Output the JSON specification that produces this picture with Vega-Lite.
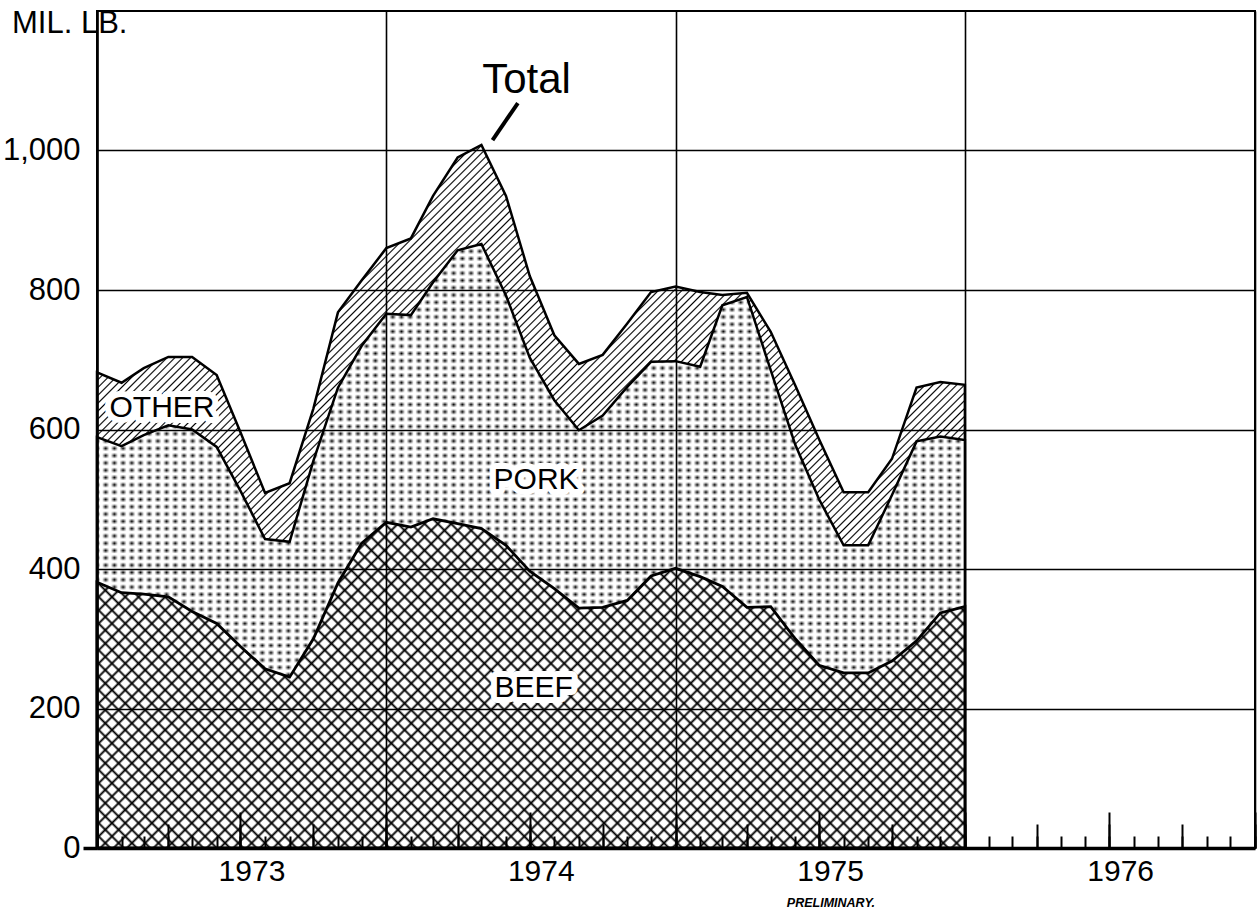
{
"$schema":"https://vega.github.io/schema/vega-lite/v6.json",
"width":1158,"height":837,
"autosize":{"type":"none"},
"padding":{"left":97,"top":11,"right":4,"bottom":69},
"background":"white",
"config":{"view":{"stroke":"black","strokeWidth":2},"axis":{"zindex":1}},
"data":{"values":[
{"date":"1973-01-01","beef":381,"pork":208,"other":93},
{"date":"1973-02-01","beef":366,"pork":210,"other":91},
{"date":"1973-03-01","beef":364,"pork":228,"other":96},
{"date":"1973-04-01","beef":360,"pork":246,"other":98},
{"date":"1973-05-01","beef":339,"pork":261,"other":104},
{"date":"1973-06-01","beef":322,"pork":253,"other":103},
{"date":"1973-07-01","beef":289,"pork":223,"other":84},
{"date":"1973-08-01","beef":257,"pork":186,"other":66},
{"date":"1973-09-01","beef":245,"pork":194,"other":84},
{"date":"1973-10-01","beef":300,"pork":255,"other":75},
{"date":"1973-11-01","beef":380,"pork":280,"other":108},
{"date":"1973-12-01","beef":437,"pork":283,"other":94},
{"date":"1974-01-01","beef":467,"pork":299,"other":94},
{"date":"1974-02-01","beef":460,"pork":304,"other":110},
{"date":"1974-03-01","beef":472,"pork":339,"other":124},
{"date":"1974-04-01","beef":465,"pork":392,"other":133},
{"date":"1974-05-01","beef":458,"pork":408,"other":142},
{"date":"1974-06-01","beef":434,"pork":358,"other":143},
{"date":"1974-07-01","beef":397,"pork":306,"other":117},
{"date":"1974-08-01","beef":372,"pork":270,"other":93},
{"date":"1974-09-01","beef":344,"pork":255,"other":95},
{"date":"1974-10-01","beef":345,"pork":275,"other":87},
{"date":"1974-11-01","beef":355,"pork":306,"other":91},
{"date":"1974-12-01","beef":390,"pork":307,"other":100},
{"date":"1975-01-01","beef":401,"pork":297,"other":107},
{"date":"1975-02-01","beef":389,"pork":301,"other":107},
{"date":"1975-03-01","beef":375,"pork":403,"other":15},
{"date":"1975-04-01","beef":345,"pork":445,"other":6},
{"date":"1975-05-01","beef":346,"pork":339,"other":55},
{"date":"1975-06-01","beef":300,"pork":278,"other":85},
{"date":"1975-07-01","beef":262,"pork":238,"other":86},
{"date":"1975-08-01","beef":251,"pork":183,"other":76},
{"date":"1975-09-01","beef":251,"pork":183,"other":76},
{"date":"1975-10-01","beef":268,"pork":238,"other":52},
{"date":"1975-11-01","beef":297,"pork":286,"other":77},
{"date":"1975-12-01","beef":337,"pork":253,"other":78},
{"date":"1976-01-01","beef":346,"pork":239,"other":79}
]},
"resolve":{"axis":{"x":"independent","y":"independent"}},
"layer":[
{
"transform":[{"fold":["beef","pork","other"],"as":["meat","mil_lb"]},{"aggregate":[{"op":"sum","field":"mil_lb","as":"total"}],"groupby":["date"]}],
"mark":{"type":"area","stroke":"black","strokeWidth":2.5,"fill":{"gradient":"linear","x1":0,"y1":0,"x2":1.0929,"y2":0.8853,"stops":[
{"offset":0,"color":"#000"},{"offset":0.001,"color":"#fff"},
{"offset":0.004,"color":"#fff"},{"offset":0.005,"color":"#000"},{"offset":0.006,"color":"#fff"},{"offset":0.009,"color":"#fff"},{"offset":0.010,"color":"#000"},{"offset":0.011,"color":"#fff"},
{"offset":0.014,"color":"#fff"},{"offset":0.015,"color":"#000"},{"offset":0.016,"color":"#fff"},{"offset":0.019,"color":"#fff"},{"offset":0.020,"color":"#000"},{"offset":0.021,"color":"#fff"},
{"offset":0.024,"color":"#fff"},{"offset":0.025,"color":"#000"},{"offset":0.026,"color":"#fff"},{"offset":0.029,"color":"#fff"},{"offset":0.030,"color":"#000"},{"offset":0.031,"color":"#fff"},
{"offset":0.034,"color":"#fff"},{"offset":0.035,"color":"#000"},{"offset":0.036,"color":"#fff"},{"offset":0.039,"color":"#fff"},{"offset":0.040,"color":"#000"},{"offset":0.041,"color":"#fff"},
{"offset":0.044,"color":"#fff"},{"offset":0.045,"color":"#000"},{"offset":0.046,"color":"#fff"},{"offset":0.049,"color":"#fff"},{"offset":0.050,"color":"#000"},{"offset":0.051,"color":"#fff"},
{"offset":0.054,"color":"#fff"},{"offset":0.055,"color":"#000"},{"offset":0.056,"color":"#fff"},{"offset":0.059,"color":"#fff"},{"offset":0.060,"color":"#000"},{"offset":0.061,"color":"#fff"},
{"offset":0.064,"color":"#fff"},{"offset":0.065,"color":"#000"},{"offset":0.066,"color":"#fff"},{"offset":0.069,"color":"#fff"},{"offset":0.070,"color":"#000"},{"offset":0.071,"color":"#fff"},
{"offset":0.074,"color":"#fff"},{"offset":0.075,"color":"#000"},{"offset":0.076,"color":"#fff"},{"offset":0.079,"color":"#fff"},{"offset":0.080,"color":"#000"},{"offset":0.081,"color":"#fff"},
{"offset":0.084,"color":"#fff"},{"offset":0.085,"color":"#000"},{"offset":0.086,"color":"#fff"},{"offset":0.089,"color":"#fff"},{"offset":0.090,"color":"#000"},{"offset":0.091,"color":"#fff"},
{"offset":0.094,"color":"#fff"},{"offset":0.095,"color":"#000"},{"offset":0.096,"color":"#fff"},{"offset":0.099,"color":"#fff"},{"offset":0.100,"color":"#000"},{"offset":0.101,"color":"#fff"},
{"offset":0.104,"color":"#fff"},{"offset":0.105,"color":"#000"},{"offset":0.106,"color":"#fff"},{"offset":0.109,"color":"#fff"},{"offset":0.110,"color":"#000"},{"offset":0.111,"color":"#fff"},
{"offset":0.114,"color":"#fff"},{"offset":0.115,"color":"#000"},{"offset":0.116,"color":"#fff"},{"offset":0.119,"color":"#fff"},{"offset":0.120,"color":"#000"},{"offset":0.121,"color":"#fff"},
{"offset":0.124,"color":"#fff"},{"offset":0.125,"color":"#000"},{"offset":0.126,"color":"#fff"},{"offset":0.129,"color":"#fff"},{"offset":0.130,"color":"#000"},{"offset":0.131,"color":"#fff"},
{"offset":0.134,"color":"#fff"},{"offset":0.135,"color":"#000"},{"offset":0.136,"color":"#fff"},{"offset":0.139,"color":"#fff"},{"offset":0.140,"color":"#000"},{"offset":0.141,"color":"#fff"},
{"offset":0.144,"color":"#fff"},{"offset":0.145,"color":"#000"},{"offset":0.146,"color":"#fff"},{"offset":0.149,"color":"#fff"},{"offset":0.150,"color":"#000"},{"offset":0.151,"color":"#fff"},
{"offset":0.154,"color":"#fff"},{"offset":0.155,"color":"#000"},{"offset":0.156,"color":"#fff"},{"offset":0.159,"color":"#fff"},{"offset":0.160,"color":"#000"},{"offset":0.161,"color":"#fff"},
{"offset":0.164,"color":"#fff"},{"offset":0.165,"color":"#000"},{"offset":0.166,"color":"#fff"},{"offset":0.169,"color":"#fff"},{"offset":0.170,"color":"#000"},{"offset":0.171,"color":"#fff"},
{"offset":0.174,"color":"#fff"},{"offset":0.175,"color":"#000"},{"offset":0.176,"color":"#fff"},{"offset":0.179,"color":"#fff"},{"offset":0.180,"color":"#000"},{"offset":0.181,"color":"#fff"},
{"offset":0.184,"color":"#fff"},{"offset":0.185,"color":"#000"},{"offset":0.186,"color":"#fff"},{"offset":0.189,"color":"#fff"},{"offset":0.190,"color":"#000"},{"offset":0.191,"color":"#fff"},
{"offset":0.194,"color":"#fff"},{"offset":0.195,"color":"#000"},{"offset":0.196,"color":"#fff"},{"offset":0.199,"color":"#fff"},{"offset":0.200,"color":"#000"},{"offset":0.201,"color":"#fff"},
{"offset":0.204,"color":"#fff"},{"offset":0.205,"color":"#000"},{"offset":0.206,"color":"#fff"},{"offset":0.209,"color":"#fff"},{"offset":0.210,"color":"#000"},{"offset":0.211,"color":"#fff"},
{"offset":0.214,"color":"#fff"},{"offset":0.215,"color":"#000"},{"offset":0.216,"color":"#fff"},{"offset":0.219,"color":"#fff"},{"offset":0.220,"color":"#000"},{"offset":0.221,"color":"#fff"},
{"offset":0.224,"color":"#fff"},{"offset":0.225,"color":"#000"},{"offset":0.226,"color":"#fff"},{"offset":0.229,"color":"#fff"},{"offset":0.230,"color":"#000"},{"offset":0.231,"color":"#fff"},
{"offset":0.234,"color":"#fff"},{"offset":0.235,"color":"#000"},{"offset":0.236,"color":"#fff"},{"offset":0.239,"color":"#fff"},{"offset":0.240,"color":"#000"},{"offset":0.241,"color":"#fff"},
{"offset":0.244,"color":"#fff"},{"offset":0.245,"color":"#000"},{"offset":0.246,"color":"#fff"},{"offset":0.249,"color":"#fff"},{"offset":0.250,"color":"#000"},{"offset":0.251,"color":"#fff"},
{"offset":0.254,"color":"#fff"},{"offset":0.255,"color":"#000"},{"offset":0.256,"color":"#fff"},{"offset":0.259,"color":"#fff"},{"offset":0.260,"color":"#000"},{"offset":0.261,"color":"#fff"},
{"offset":0.264,"color":"#fff"},{"offset":0.265,"color":"#000"},{"offset":0.266,"color":"#fff"},{"offset":0.269,"color":"#fff"},{"offset":0.270,"color":"#000"},{"offset":0.271,"color":"#fff"},
{"offset":0.274,"color":"#fff"},{"offset":0.275,"color":"#000"},{"offset":0.276,"color":"#fff"},{"offset":0.279,"color":"#fff"},{"offset":0.280,"color":"#000"},{"offset":0.281,"color":"#fff"},
{"offset":0.284,"color":"#fff"},{"offset":0.285,"color":"#000"},{"offset":0.286,"color":"#fff"},{"offset":0.289,"color":"#fff"},{"offset":0.290,"color":"#000"},{"offset":0.291,"color":"#fff"},
{"offset":0.294,"color":"#fff"},{"offset":0.295,"color":"#000"},{"offset":0.296,"color":"#fff"},{"offset":0.299,"color":"#fff"},{"offset":0.300,"color":"#000"},{"offset":0.301,"color":"#fff"},
{"offset":0.304,"color":"#fff"},{"offset":0.305,"color":"#000"},{"offset":0.306,"color":"#fff"},{"offset":0.309,"color":"#fff"},{"offset":0.310,"color":"#000"},{"offset":0.311,"color":"#fff"},
{"offset":0.314,"color":"#fff"},{"offset":0.315,"color":"#000"},{"offset":0.316,"color":"#fff"},{"offset":0.319,"color":"#fff"},{"offset":0.320,"color":"#000"},{"offset":0.321,"color":"#fff"},
{"offset":0.324,"color":"#fff"},{"offset":0.325,"color":"#000"},{"offset":0.326,"color":"#fff"},{"offset":0.329,"color":"#fff"},{"offset":0.330,"color":"#000"},{"offset":0.331,"color":"#fff"},
{"offset":0.334,"color":"#fff"},{"offset":0.335,"color":"#000"},{"offset":0.336,"color":"#fff"},{"offset":0.339,"color":"#fff"},{"offset":0.340,"color":"#000"},{"offset":0.341,"color":"#fff"},
{"offset":0.344,"color":"#fff"},{"offset":0.345,"color":"#000"},{"offset":0.346,"color":"#fff"},{"offset":0.349,"color":"#fff"},{"offset":0.350,"color":"#000"},{"offset":0.351,"color":"#fff"},
{"offset":0.354,"color":"#fff"},{"offset":0.355,"color":"#000"},{"offset":0.356,"color":"#fff"},{"offset":0.359,"color":"#fff"},{"offset":0.360,"color":"#000"},{"offset":0.361,"color":"#fff"},
{"offset":0.364,"color":"#fff"},{"offset":0.365,"color":"#000"},{"offset":0.366,"color":"#fff"},{"offset":0.369,"color":"#fff"},{"offset":0.370,"color":"#000"},{"offset":0.371,"color":"#fff"},
{"offset":0.374,"color":"#fff"},{"offset":0.375,"color":"#000"},{"offset":0.376,"color":"#fff"},{"offset":0.379,"color":"#fff"},{"offset":0.380,"color":"#000"},{"offset":0.381,"color":"#fff"},
{"offset":0.384,"color":"#fff"},{"offset":0.385,"color":"#000"},{"offset":0.386,"color":"#fff"},{"offset":0.389,"color":"#fff"},{"offset":0.390,"color":"#000"},{"offset":0.391,"color":"#fff"},
{"offset":0.394,"color":"#fff"},{"offset":0.395,"color":"#000"},{"offset":0.396,"color":"#fff"},{"offset":0.399,"color":"#fff"},{"offset":0.400,"color":"#000"},{"offset":0.401,"color":"#fff"},
{"offset":0.404,"color":"#fff"},{"offset":0.405,"color":"#000"},{"offset":0.406,"color":"#fff"},{"offset":0.409,"color":"#fff"},{"offset":0.410,"color":"#000"},{"offset":0.411,"color":"#fff"},
{"offset":0.414,"color":"#fff"},{"offset":0.415,"color":"#000"},{"offset":0.416,"color":"#fff"},{"offset":0.419,"color":"#fff"},{"offset":0.420,"color":"#000"},{"offset":0.421,"color":"#fff"},
{"offset":0.424,"color":"#fff"},{"offset":0.425,"color":"#000"},{"offset":0.426,"color":"#fff"},{"offset":0.429,"color":"#fff"},{"offset":0.430,"color":"#000"},{"offset":0.431,"color":"#fff"},
{"offset":0.434,"color":"#fff"},{"offset":0.435,"color":"#000"},{"offset":0.436,"color":"#fff"},{"offset":0.439,"color":"#fff"},{"offset":0.440,"color":"#000"},{"offset":0.441,"color":"#fff"},
{"offset":0.444,"color":"#fff"},{"offset":0.445,"color":"#000"},{"offset":0.446,"color":"#fff"},{"offset":0.449,"color":"#fff"},{"offset":0.450,"color":"#000"},{"offset":0.451,"color":"#fff"},
{"offset":0.454,"color":"#fff"},{"offset":0.455,"color":"#000"},{"offset":0.456,"color":"#fff"},{"offset":0.459,"color":"#fff"},{"offset":0.460,"color":"#000"},{"offset":0.461,"color":"#fff"},
{"offset":0.464,"color":"#fff"},{"offset":0.465,"color":"#000"},{"offset":0.466,"color":"#fff"},{"offset":0.469,"color":"#fff"},{"offset":0.470,"color":"#000"},{"offset":0.471,"color":"#fff"},
{"offset":0.474,"color":"#fff"},{"offset":0.475,"color":"#000"},{"offset":0.476,"color":"#fff"},{"offset":0.479,"color":"#fff"},{"offset":0.480,"color":"#000"},{"offset":0.481,"color":"#fff"},
{"offset":0.484,"color":"#fff"},{"offset":0.485,"color":"#000"},{"offset":0.486,"color":"#fff"},{"offset":0.489,"color":"#fff"},{"offset":0.490,"color":"#000"},{"offset":0.491,"color":"#fff"},
{"offset":0.494,"color":"#fff"},{"offset":0.495,"color":"#000"},{"offset":0.496,"color":"#fff"},{"offset":0.499,"color":"#fff"},{"offset":0.500,"color":"#000"},{"offset":0.501,"color":"#fff"},
{"offset":0.504,"color":"#fff"},{"offset":0.505,"color":"#000"},{"offset":0.506,"color":"#fff"},{"offset":0.509,"color":"#fff"},{"offset":0.510,"color":"#000"},{"offset":0.511,"color":"#fff"},
{"offset":0.514,"color":"#fff"},{"offset":0.515,"color":"#000"},{"offset":0.516,"color":"#fff"},{"offset":0.519,"color":"#fff"},{"offset":0.520,"color":"#000"},{"offset":0.521,"color":"#fff"},
{"offset":0.524,"color":"#fff"},{"offset":0.525,"color":"#000"},{"offset":0.526,"color":"#fff"},{"offset":0.529,"color":"#fff"},{"offset":0.530,"color":"#000"},{"offset":0.531,"color":"#fff"},
{"offset":0.534,"color":"#fff"},{"offset":0.535,"color":"#000"},{"offset":0.536,"color":"#fff"},{"offset":0.539,"color":"#fff"},{"offset":0.540,"color":"#000"},{"offset":0.541,"color":"#fff"},
{"offset":0.544,"color":"#fff"},{"offset":0.545,"color":"#000"},{"offset":0.546,"color":"#fff"},{"offset":0.549,"color":"#fff"},{"offset":0.550,"color":"#000"},{"offset":0.551,"color":"#fff"},
{"offset":0.554,"color":"#fff"},{"offset":0.555,"color":"#000"},{"offset":0.556,"color":"#fff"},{"offset":0.559,"color":"#fff"},{"offset":0.560,"color":"#000"},{"offset":0.561,"color":"#fff"},
{"offset":0.564,"color":"#fff"},{"offset":0.565,"color":"#000"},{"offset":0.566,"color":"#fff"},{"offset":0.569,"color":"#fff"},{"offset":0.570,"color":"#000"},{"offset":0.571,"color":"#fff"},
{"offset":0.574,"color":"#fff"},{"offset":0.575,"color":"#000"},{"offset":0.576,"color":"#fff"},{"offset":0.579,"color":"#fff"},{"offset":0.580,"color":"#000"},{"offset":0.581,"color":"#fff"},
{"offset":0.584,"color":"#fff"},{"offset":0.585,"color":"#000"},{"offset":0.586,"color":"#fff"},{"offset":0.589,"color":"#fff"},{"offset":0.590,"color":"#000"},{"offset":0.591,"color":"#fff"},
{"offset":0.594,"color":"#fff"},{"offset":0.595,"color":"#000"},{"offset":0.596,"color":"#fff"},{"offset":0.599,"color":"#fff"},{"offset":0.600,"color":"#000"},{"offset":0.601,"color":"#fff"},
{"offset":0.604,"color":"#fff"},{"offset":0.605,"color":"#000"},{"offset":0.606,"color":"#fff"},{"offset":0.609,"color":"#fff"},{"offset":0.610,"color":"#000"},{"offset":0.611,"color":"#fff"},
{"offset":0.614,"color":"#fff"},{"offset":0.615,"color":"#000"},{"offset":0.616,"color":"#fff"},{"offset":0.619,"color":"#fff"},{"offset":0.620,"color":"#000"},{"offset":0.621,"color":"#fff"},
{"offset":0.624,"color":"#fff"},{"offset":0.625,"color":"#000"},{"offset":0.626,"color":"#fff"},{"offset":0.629,"color":"#fff"},{"offset":0.630,"color":"#000"},{"offset":0.631,"color":"#fff"},
{"offset":0.634,"color":"#fff"},{"offset":0.635,"color":"#000"},{"offset":0.636,"color":"#fff"},{"offset":0.639,"color":"#fff"},{"offset":0.640,"color":"#000"},{"offset":0.641,"color":"#fff"},
{"offset":0.644,"color":"#fff"},{"offset":0.645,"color":"#000"},{"offset":0.646,"color":"#fff"},{"offset":0.649,"color":"#fff"},{"offset":0.650,"color":"#000"},{"offset":0.651,"color":"#fff"},
{"offset":0.654,"color":"#fff"},{"offset":0.655,"color":"#000"},{"offset":0.656,"color":"#fff"},{"offset":0.659,"color":"#fff"},{"offset":0.660,"color":"#000"},{"offset":0.661,"color":"#fff"},
{"offset":0.664,"color":"#fff"},{"offset":0.665,"color":"#000"},{"offset":0.666,"color":"#fff"},{"offset":0.669,"color":"#fff"},{"offset":0.670,"color":"#000"},{"offset":0.671,"color":"#fff"},
{"offset":0.674,"color":"#fff"},{"offset":0.675,"color":"#000"},{"offset":0.676,"color":"#fff"},{"offset":0.679,"color":"#fff"},{"offset":0.680,"color":"#000"},{"offset":0.681,"color":"#fff"},
{"offset":0.684,"color":"#fff"},{"offset":0.685,"color":"#000"},{"offset":0.686,"color":"#fff"},{"offset":0.689,"color":"#fff"},{"offset":0.690,"color":"#000"},{"offset":0.691,"color":"#fff"},
{"offset":0.694,"color":"#fff"},{"offset":0.695,"color":"#000"},{"offset":0.696,"color":"#fff"},{"offset":0.699,"color":"#fff"},{"offset":0.700,"color":"#000"},{"offset":0.701,"color":"#fff"},
{"offset":0.704,"color":"#fff"},{"offset":0.705,"color":"#000"},{"offset":0.706,"color":"#fff"},{"offset":0.709,"color":"#fff"},{"offset":0.710,"color":"#000"},{"offset":0.711,"color":"#fff"},
{"offset":0.714,"color":"#fff"},{"offset":0.715,"color":"#000"},{"offset":0.716,"color":"#fff"},{"offset":0.719,"color":"#fff"},{"offset":0.720,"color":"#000"},{"offset":0.721,"color":"#fff"},
{"offset":0.724,"color":"#fff"},{"offset":0.725,"color":"#000"},{"offset":0.726,"color":"#fff"},{"offset":0.729,"color":"#fff"},{"offset":0.730,"color":"#000"},{"offset":0.731,"color":"#fff"},
{"offset":0.734,"color":"#fff"},{"offset":0.735,"color":"#000"},{"offset":0.736,"color":"#fff"},{"offset":0.739,"color":"#fff"},{"offset":0.740,"color":"#000"},{"offset":0.741,"color":"#fff"},
{"offset":0.744,"color":"#fff"},{"offset":0.745,"color":"#000"},{"offset":0.746,"color":"#fff"},{"offset":0.749,"color":"#fff"},{"offset":0.750,"color":"#000"},{"offset":0.751,"color":"#fff"},
{"offset":0.754,"color":"#fff"},{"offset":0.755,"color":"#000"},{"offset":0.756,"color":"#fff"},{"offset":0.759,"color":"#fff"},{"offset":0.760,"color":"#000"},{"offset":0.761,"color":"#fff"},
{"offset":0.764,"color":"#fff"},{"offset":0.765,"color":"#000"},{"offset":0.766,"color":"#fff"},{"offset":0.769,"color":"#fff"},{"offset":0.770,"color":"#000"},{"offset":0.771,"color":"#fff"},
{"offset":0.774,"color":"#fff"},{"offset":0.775,"color":"#000"},{"offset":0.776,"color":"#fff"},{"offset":0.779,"color":"#fff"},{"offset":0.780,"color":"#000"},{"offset":0.781,"color":"#fff"},
{"offset":0.784,"color":"#fff"},{"offset":0.785,"color":"#000"},{"offset":0.786,"color":"#fff"},{"offset":0.789,"color":"#fff"},{"offset":0.790,"color":"#000"},{"offset":0.791,"color":"#fff"},
{"offset":0.794,"color":"#fff"},{"offset":0.795,"color":"#000"},{"offset":0.796,"color":"#fff"},{"offset":0.799,"color":"#fff"},{"offset":0.800,"color":"#000"},{"offset":0.801,"color":"#fff"},
{"offset":0.804,"color":"#fff"},{"offset":0.805,"color":"#000"},{"offset":0.806,"color":"#fff"},{"offset":0.809,"color":"#fff"},{"offset":0.810,"color":"#000"},{"offset":0.811,"color":"#fff"},
{"offset":0.814,"color":"#fff"},{"offset":0.815,"color":"#000"},{"offset":0.816,"color":"#fff"},{"offset":0.819,"color":"#fff"},{"offset":0.820,"color":"#000"},{"offset":0.821,"color":"#fff"},
{"offset":0.824,"color":"#fff"},{"offset":0.825,"color":"#000"},{"offset":0.826,"color":"#fff"},{"offset":0.829,"color":"#fff"},{"offset":0.830,"color":"#000"},{"offset":0.831,"color":"#fff"},
{"offset":0.834,"color":"#fff"},{"offset":0.835,"color":"#000"},{"offset":0.836,"color":"#fff"},{"offset":0.839,"color":"#fff"},{"offset":0.840,"color":"#000"},{"offset":0.841,"color":"#fff"},
{"offset":0.844,"color":"#fff"},{"offset":0.845,"color":"#000"},{"offset":0.846,"color":"#fff"},{"offset":0.849,"color":"#fff"},{"offset":0.850,"color":"#000"},{"offset":0.851,"color":"#fff"},
{"offset":0.854,"color":"#fff"},{"offset":0.855,"color":"#000"},{"offset":0.856,"color":"#fff"},{"offset":0.859,"color":"#fff"},{"offset":0.860,"color":"#000"},{"offset":0.861,"color":"#fff"},
{"offset":0.864,"color":"#fff"},{"offset":0.865,"color":"#000"},{"offset":0.866,"color":"#fff"},{"offset":0.869,"color":"#fff"},{"offset":0.870,"color":"#000"},{"offset":0.871,"color":"#fff"},
{"offset":0.874,"color":"#fff"},{"offset":0.875,"color":"#000"},{"offset":0.876,"color":"#fff"},{"offset":0.879,"color":"#fff"},{"offset":0.880,"color":"#000"},{"offset":0.881,"color":"#fff"},
{"offset":0.884,"color":"#fff"},{"offset":0.885,"color":"#000"},{"offset":0.886,"color":"#fff"},{"offset":0.889,"color":"#fff"},{"offset":0.890,"color":"#000"},{"offset":0.891,"color":"#fff"},
{"offset":0.894,"color":"#fff"},{"offset":0.895,"color":"#000"},{"offset":0.896,"color":"#fff"},{"offset":0.899,"color":"#fff"},{"offset":0.900,"color":"#000"},{"offset":0.901,"color":"#fff"},
{"offset":0.904,"color":"#fff"},{"offset":0.905,"color":"#000"},{"offset":0.906,"color":"#fff"},{"offset":0.909,"color":"#fff"},{"offset":0.910,"color":"#000"},{"offset":0.911,"color":"#fff"},
{"offset":0.914,"color":"#fff"},{"offset":0.915,"color":"#000"},{"offset":0.916,"color":"#fff"},{"offset":0.919,"color":"#fff"},{"offset":0.920,"color":"#000"},{"offset":0.921,"color":"#fff"},
{"offset":0.924,"color":"#fff"},{"offset":0.925,"color":"#000"},{"offset":0.926,"color":"#fff"},{"offset":0.929,"color":"#fff"},{"offset":0.930,"color":"#000"},{"offset":0.931,"color":"#fff"},
{"offset":0.934,"color":"#fff"},{"offset":0.935,"color":"#000"},{"offset":0.936,"color":"#fff"},{"offset":0.939,"color":"#fff"},{"offset":0.940,"color":"#000"},{"offset":0.941,"color":"#fff"},
{"offset":0.944,"color":"#fff"},{"offset":0.945,"color":"#000"},{"offset":0.946,"color":"#fff"},{"offset":0.949,"color":"#fff"},{"offset":0.950,"color":"#000"},{"offset":0.951,"color":"#fff"},
{"offset":0.954,"color":"#fff"},{"offset":0.955,"color":"#000"},{"offset":0.956,"color":"#fff"},{"offset":0.959,"color":"#fff"},{"offset":0.960,"color":"#000"},{"offset":0.961,"color":"#fff"},
{"offset":0.964,"color":"#fff"},{"offset":0.965,"color":"#000"},{"offset":0.966,"color":"#fff"},{"offset":0.969,"color":"#fff"},{"offset":0.970,"color":"#000"},{"offset":0.971,"color":"#fff"},
{"offset":0.974,"color":"#fff"},{"offset":0.975,"color":"#000"},{"offset":0.976,"color":"#fff"},{"offset":0.979,"color":"#fff"},{"offset":0.980,"color":"#000"},{"offset":0.981,"color":"#fff"},
{"offset":0.984,"color":"#fff"},{"offset":0.985,"color":"#000"},{"offset":0.986,"color":"#fff"},{"offset":0.989,"color":"#fff"},{"offset":0.990,"color":"#000"},{"offset":0.991,"color":"#fff"},
{"offset":0.994,"color":"#fff"},{"offset":0.995,"color":"#000"},{"offset":0.996,"color":"#fff"},{"offset":0.999,"color":"#fff"},{"offset":1,"color":"#000"}
]}},
"encoding":{
"x":{"field":"date","type":"temporal","scale":{"type":"utc","domain":[{"year":1973,"month":1,"date":1,"utc":true},{"year":1977,"month":1,"date":1,"utc":true}]},
"axis":{"orient":"bottom","tickCount":{"interval":"year","step":1},"grid":true,"gridColor":"black","gridWidth":1.6,"gridOpacity":1,"ticks":false,"labels":false,"domain":true,"domainColor":"black","domainWidth":3.5,"title":null,"zindex":1}},
"y":{"field":"total","type":"quantitative","scale":{"domain":[0,1200],"nice":false,"zero":true},
"axis":{"orient":"left","values":[0,200,400,600,800,1000],"format":",d","grid":true,"gridColor":"black","gridWidth":1.6,"gridOpacity":1,"domain":true,"domainColor":"black","domainWidth":2.5,"ticks":false,"labelFont":"Liberation Sans, Arial, sans-serif","labelFontSize":31,"labelColor":"black","labelPadding":17,"title":null,"zindex":1}}
}
},
{
"transform":[{"fold":["beef","pork"],"as":["meat","mil_lb"]},{"aggregate":[{"op":"sum","field":"mil_lb","as":"beef_pork"}],"groupby":["date"]}],
"mark":{"type":"area","fill":{"gradient":"linear","x1":0,"y1":0,"x2":0,"y2":1.2086,"stops":[
{"offset":0,"color":"#000"},{"offset":0.004,"color":"#fff"},
{"offset":0.006,"color":"#fff"},{"offset":0.010,"color":"#000"},{"offset":0.014,"color":"#fff"},
{"offset":0.016,"color":"#fff"},{"offset":0.020,"color":"#000"},{"offset":0.024,"color":"#fff"},
{"offset":0.026,"color":"#fff"},{"offset":0.030,"color":"#000"},{"offset":0.034,"color":"#fff"},
{"offset":0.036,"color":"#fff"},{"offset":0.040,"color":"#000"},{"offset":0.044,"color":"#fff"},
{"offset":0.046,"color":"#fff"},{"offset":0.050,"color":"#000"},{"offset":0.054,"color":"#fff"},
{"offset":0.056,"color":"#fff"},{"offset":0.060,"color":"#000"},{"offset":0.064,"color":"#fff"},
{"offset":0.066,"color":"#fff"},{"offset":0.070,"color":"#000"},{"offset":0.074,"color":"#fff"},
{"offset":0.076,"color":"#fff"},{"offset":0.080,"color":"#000"},{"offset":0.084,"color":"#fff"},
{"offset":0.086,"color":"#fff"},{"offset":0.090,"color":"#000"},{"offset":0.094,"color":"#fff"},
{"offset":0.096,"color":"#fff"},{"offset":0.100,"color":"#000"},{"offset":0.104,"color":"#fff"},
{"offset":0.106,"color":"#fff"},{"offset":0.110,"color":"#000"},{"offset":0.114,"color":"#fff"},
{"offset":0.116,"color":"#fff"},{"offset":0.120,"color":"#000"},{"offset":0.124,"color":"#fff"},
{"offset":0.126,"color":"#fff"},{"offset":0.130,"color":"#000"},{"offset":0.134,"color":"#fff"},
{"offset":0.136,"color":"#fff"},{"offset":0.140,"color":"#000"},{"offset":0.144,"color":"#fff"},
{"offset":0.146,"color":"#fff"},{"offset":0.150,"color":"#000"},{"offset":0.154,"color":"#fff"},
{"offset":0.156,"color":"#fff"},{"offset":0.160,"color":"#000"},{"offset":0.164,"color":"#fff"},
{"offset":0.166,"color":"#fff"},{"offset":0.170,"color":"#000"},{"offset":0.174,"color":"#fff"},
{"offset":0.176,"color":"#fff"},{"offset":0.180,"color":"#000"},{"offset":0.184,"color":"#fff"},
{"offset":0.186,"color":"#fff"},{"offset":0.190,"color":"#000"},{"offset":0.194,"color":"#fff"},
{"offset":0.196,"color":"#fff"},{"offset":0.200,"color":"#000"},{"offset":0.204,"color":"#fff"},
{"offset":0.206,"color":"#fff"},{"offset":0.210,"color":"#000"},{"offset":0.214,"color":"#fff"},
{"offset":0.216,"color":"#fff"},{"offset":0.220,"color":"#000"},{"offset":0.224,"color":"#fff"},
{"offset":0.226,"color":"#fff"},{"offset":0.230,"color":"#000"},{"offset":0.234,"color":"#fff"},
{"offset":0.236,"color":"#fff"},{"offset":0.240,"color":"#000"},{"offset":0.244,"color":"#fff"},
{"offset":0.246,"color":"#fff"},{"offset":0.250,"color":"#000"},{"offset":0.254,"color":"#fff"},
{"offset":0.256,"color":"#fff"},{"offset":0.260,"color":"#000"},{"offset":0.264,"color":"#fff"},
{"offset":0.266,"color":"#fff"},{"offset":0.270,"color":"#000"},{"offset":0.274,"color":"#fff"},
{"offset":0.276,"color":"#fff"},{"offset":0.280,"color":"#000"},{"offset":0.284,"color":"#fff"},
{"offset":0.286,"color":"#fff"},{"offset":0.290,"color":"#000"},{"offset":0.294,"color":"#fff"},
{"offset":0.296,"color":"#fff"},{"offset":0.300,"color":"#000"},{"offset":0.304,"color":"#fff"},
{"offset":0.306,"color":"#fff"},{"offset":0.310,"color":"#000"},{"offset":0.314,"color":"#fff"},
{"offset":0.316,"color":"#fff"},{"offset":0.320,"color":"#000"},{"offset":0.324,"color":"#fff"},
{"offset":0.326,"color":"#fff"},{"offset":0.330,"color":"#000"},{"offset":0.334,"color":"#fff"},
{"offset":0.336,"color":"#fff"},{"offset":0.340,"color":"#000"},{"offset":0.344,"color":"#fff"},
{"offset":0.346,"color":"#fff"},{"offset":0.350,"color":"#000"},{"offset":0.354,"color":"#fff"},
{"offset":0.356,"color":"#fff"},{"offset":0.360,"color":"#000"},{"offset":0.364,"color":"#fff"},
{"offset":0.366,"color":"#fff"},{"offset":0.370,"color":"#000"},{"offset":0.374,"color":"#fff"},
{"offset":0.376,"color":"#fff"},{"offset":0.380,"color":"#000"},{"offset":0.384,"color":"#fff"},
{"offset":0.386,"color":"#fff"},{"offset":0.390,"color":"#000"},{"offset":0.394,"color":"#fff"},
{"offset":0.396,"color":"#fff"},{"offset":0.400,"color":"#000"},{"offset":0.404,"color":"#fff"},
{"offset":0.406,"color":"#fff"},{"offset":0.410,"color":"#000"},{"offset":0.414,"color":"#fff"},
{"offset":0.416,"color":"#fff"},{"offset":0.420,"color":"#000"},{"offset":0.424,"color":"#fff"},
{"offset":0.426,"color":"#fff"},{"offset":0.430,"color":"#000"},{"offset":0.434,"color":"#fff"},
{"offset":0.436,"color":"#fff"},{"offset":0.440,"color":"#000"},{"offset":0.444,"color":"#fff"},
{"offset":0.446,"color":"#fff"},{"offset":0.450,"color":"#000"},{"offset":0.454,"color":"#fff"},
{"offset":0.456,"color":"#fff"},{"offset":0.460,"color":"#000"},{"offset":0.464,"color":"#fff"},
{"offset":0.466,"color":"#fff"},{"offset":0.470,"color":"#000"},{"offset":0.474,"color":"#fff"},
{"offset":0.476,"color":"#fff"},{"offset":0.480,"color":"#000"},{"offset":0.484,"color":"#fff"},
{"offset":0.486,"color":"#fff"},{"offset":0.490,"color":"#000"},{"offset":0.494,"color":"#fff"},
{"offset":0.496,"color":"#fff"},{"offset":0.500,"color":"#000"},{"offset":0.504,"color":"#fff"},
{"offset":0.506,"color":"#fff"},{"offset":0.510,"color":"#000"},{"offset":0.514,"color":"#fff"},
{"offset":0.516,"color":"#fff"},{"offset":0.520,"color":"#000"},{"offset":0.524,"color":"#fff"},
{"offset":0.526,"color":"#fff"},{"offset":0.530,"color":"#000"},{"offset":0.534,"color":"#fff"},
{"offset":0.536,"color":"#fff"},{"offset":0.540,"color":"#000"},{"offset":0.544,"color":"#fff"},
{"offset":0.546,"color":"#fff"},{"offset":0.550,"color":"#000"},{"offset":0.554,"color":"#fff"},
{"offset":0.556,"color":"#fff"},{"offset":0.560,"color":"#000"},{"offset":0.564,"color":"#fff"},
{"offset":0.566,"color":"#fff"},{"offset":0.570,"color":"#000"},{"offset":0.574,"color":"#fff"},
{"offset":0.576,"color":"#fff"},{"offset":0.580,"color":"#000"},{"offset":0.584,"color":"#fff"},
{"offset":0.586,"color":"#fff"},{"offset":0.590,"color":"#000"},{"offset":0.594,"color":"#fff"},
{"offset":0.596,"color":"#fff"},{"offset":0.600,"color":"#000"},{"offset":0.604,"color":"#fff"},
{"offset":0.606,"color":"#fff"},{"offset":0.610,"color":"#000"},{"offset":0.614,"color":"#fff"},
{"offset":0.616,"color":"#fff"},{"offset":0.620,"color":"#000"},{"offset":0.624,"color":"#fff"},
{"offset":0.626,"color":"#fff"},{"offset":0.630,"color":"#000"},{"offset":0.634,"color":"#fff"},
{"offset":0.636,"color":"#fff"},{"offset":0.640,"color":"#000"},{"offset":0.644,"color":"#fff"},
{"offset":0.646,"color":"#fff"},{"offset":0.650,"color":"#000"},{"offset":0.654,"color":"#fff"},
{"offset":0.656,"color":"#fff"},{"offset":0.660,"color":"#000"},{"offset":0.664,"color":"#fff"},
{"offset":0.666,"color":"#fff"},{"offset":0.670,"color":"#000"},{"offset":0.674,"color":"#fff"},
{"offset":0.676,"color":"#fff"},{"offset":0.680,"color":"#000"},{"offset":0.684,"color":"#fff"},
{"offset":0.686,"color":"#fff"},{"offset":0.690,"color":"#000"},{"offset":0.694,"color":"#fff"},
{"offset":0.696,"color":"#fff"},{"offset":0.700,"color":"#000"},{"offset":0.704,"color":"#fff"},
{"offset":0.706,"color":"#fff"},{"offset":0.710,"color":"#000"},{"offset":0.714,"color":"#fff"},
{"offset":0.716,"color":"#fff"},{"offset":0.720,"color":"#000"},{"offset":0.724,"color":"#fff"},
{"offset":0.726,"color":"#fff"},{"offset":0.730,"color":"#000"},{"offset":0.734,"color":"#fff"},
{"offset":0.736,"color":"#fff"},{"offset":0.740,"color":"#000"},{"offset":0.744,"color":"#fff"},
{"offset":0.746,"color":"#fff"},{"offset":0.750,"color":"#000"},{"offset":0.754,"color":"#fff"},
{"offset":0.756,"color":"#fff"},{"offset":0.760,"color":"#000"},{"offset":0.764,"color":"#fff"},
{"offset":0.766,"color":"#fff"},{"offset":0.770,"color":"#000"},{"offset":0.774,"color":"#fff"},
{"offset":0.776,"color":"#fff"},{"offset":0.780,"color":"#000"},{"offset":0.784,"color":"#fff"},
{"offset":0.786,"color":"#fff"},{"offset":0.790,"color":"#000"},{"offset":0.794,"color":"#fff"},
{"offset":0.796,"color":"#fff"},{"offset":0.800,"color":"#000"},{"offset":0.804,"color":"#fff"},
{"offset":0.806,"color":"#fff"},{"offset":0.810,"color":"#000"},{"offset":0.814,"color":"#fff"},
{"offset":0.816,"color":"#fff"},{"offset":0.820,"color":"#000"},{"offset":0.824,"color":"#fff"},
{"offset":1,"color":"#fff"}
]}},
"encoding":{
"x":{"field":"date","type":"temporal",
"axis":{"orient":"bottom","values":[{"year":1973,"month":7,"date":1,"utc":true},{"year":1974,"month":7,"date":1,"utc":true},{"year":1975,"month":7,"date":1,"utc":true},{"year":1976,"month":7,"date":1,"utc":true}],"labelExpr":"utcFormat(datum.value, '%Y')","labelOffset":11,"labelFlush":false,"labelOverlap":false,"labelPadding":8,"labelFont":"Liberation Sans, Arial, sans-serif","labelFontSize":30,"labelColor":"black","ticks":false,"domain":false,"grid":false,"title":null,"zindex":1}},
"y":{"field":"beef_pork","type":"quantitative",
"axis":{"orient":"left","values":[0],"ticks":true,"tickSize":14,"tickWidth":3.5,"tickColor":"black","labels":false,"domain":false,"grid":false,"title":null,"zindex":1}}
}
},
{
"transform":[{"fold":["beef","pork"],"as":["meat","mil_lb"]},{"aggregate":[{"op":"sum","field":"mil_lb","as":"beef_pork"}],"groupby":["date"]}],
"mark":{"type":"area","stroke":"black","strokeWidth":2.5,"fill":{"gradient":"linear","x1":0,"y1":0,"x2":1.0023,"y2":0,"stops":[
{"offset":0,"color":"rgba(255,255,255,0)"},{"offset":0.004,"color":"#fff"},
{"offset":0.006,"color":"#fff"},{"offset":0.010,"color":"rgba(255,255,255,0)"},{"offset":0.014,"color":"#fff"},
{"offset":0.016,"color":"#fff"},{"offset":0.020,"color":"rgba(255,255,255,0)"},{"offset":0.024,"color":"#fff"},
{"offset":0.026,"color":"#fff"},{"offset":0.030,"color":"rgba(255,255,255,0)"},{"offset":0.034,"color":"#fff"},
{"offset":0.036,"color":"#fff"},{"offset":0.040,"color":"rgba(255,255,255,0)"},{"offset":0.044,"color":"#fff"},
{"offset":0.046,"color":"#fff"},{"offset":0.050,"color":"rgba(255,255,255,0)"},{"offset":0.054,"color":"#fff"},
{"offset":0.056,"color":"#fff"},{"offset":0.060,"color":"rgba(255,255,255,0)"},{"offset":0.064,"color":"#fff"},
{"offset":0.066,"color":"#fff"},{"offset":0.070,"color":"rgba(255,255,255,0)"},{"offset":0.074,"color":"#fff"},
{"offset":0.076,"color":"#fff"},{"offset":0.080,"color":"rgba(255,255,255,0)"},{"offset":0.084,"color":"#fff"},
{"offset":0.086,"color":"#fff"},{"offset":0.090,"color":"rgba(255,255,255,0)"},{"offset":0.094,"color":"#fff"},
{"offset":0.096,"color":"#fff"},{"offset":0.100,"color":"rgba(255,255,255,0)"},{"offset":0.104,"color":"#fff"},
{"offset":0.106,"color":"#fff"},{"offset":0.110,"color":"rgba(255,255,255,0)"},{"offset":0.114,"color":"#fff"},
{"offset":0.116,"color":"#fff"},{"offset":0.120,"color":"rgba(255,255,255,0)"},{"offset":0.124,"color":"#fff"},
{"offset":0.126,"color":"#fff"},{"offset":0.130,"color":"rgba(255,255,255,0)"},{"offset":0.134,"color":"#fff"},
{"offset":0.136,"color":"#fff"},{"offset":0.140,"color":"rgba(255,255,255,0)"},{"offset":0.144,"color":"#fff"},
{"offset":0.146,"color":"#fff"},{"offset":0.150,"color":"rgba(255,255,255,0)"},{"offset":0.154,"color":"#fff"},
{"offset":0.156,"color":"#fff"},{"offset":0.160,"color":"rgba(255,255,255,0)"},{"offset":0.164,"color":"#fff"},
{"offset":0.166,"color":"#fff"},{"offset":0.170,"color":"rgba(255,255,255,0)"},{"offset":0.174,"color":"#fff"},
{"offset":0.176,"color":"#fff"},{"offset":0.180,"color":"rgba(255,255,255,0)"},{"offset":0.184,"color":"#fff"},
{"offset":0.186,"color":"#fff"},{"offset":0.190,"color":"rgba(255,255,255,0)"},{"offset":0.194,"color":"#fff"},
{"offset":0.196,"color":"#fff"},{"offset":0.200,"color":"rgba(255,255,255,0)"},{"offset":0.204,"color":"#fff"},
{"offset":0.206,"color":"#fff"},{"offset":0.210,"color":"rgba(255,255,255,0)"},{"offset":0.214,"color":"#fff"},
{"offset":0.216,"color":"#fff"},{"offset":0.220,"color":"rgba(255,255,255,0)"},{"offset":0.224,"color":"#fff"},
{"offset":0.226,"color":"#fff"},{"offset":0.230,"color":"rgba(255,255,255,0)"},{"offset":0.234,"color":"#fff"},
{"offset":0.236,"color":"#fff"},{"offset":0.240,"color":"rgba(255,255,255,0)"},{"offset":0.244,"color":"#fff"},
{"offset":0.246,"color":"#fff"},{"offset":0.250,"color":"rgba(255,255,255,0)"},{"offset":0.254,"color":"#fff"},
{"offset":0.256,"color":"#fff"},{"offset":0.260,"color":"rgba(255,255,255,0)"},{"offset":0.264,"color":"#fff"},
{"offset":0.266,"color":"#fff"},{"offset":0.270,"color":"rgba(255,255,255,0)"},{"offset":0.274,"color":"#fff"},
{"offset":0.276,"color":"#fff"},{"offset":0.280,"color":"rgba(255,255,255,0)"},{"offset":0.284,"color":"#fff"},
{"offset":0.286,"color":"#fff"},{"offset":0.290,"color":"rgba(255,255,255,0)"},{"offset":0.294,"color":"#fff"},
{"offset":0.296,"color":"#fff"},{"offset":0.300,"color":"rgba(255,255,255,0)"},{"offset":0.304,"color":"#fff"},
{"offset":0.306,"color":"#fff"},{"offset":0.310,"color":"rgba(255,255,255,0)"},{"offset":0.314,"color":"#fff"},
{"offset":0.316,"color":"#fff"},{"offset":0.320,"color":"rgba(255,255,255,0)"},{"offset":0.324,"color":"#fff"},
{"offset":0.326,"color":"#fff"},{"offset":0.330,"color":"rgba(255,255,255,0)"},{"offset":0.334,"color":"#fff"},
{"offset":0.336,"color":"#fff"},{"offset":0.340,"color":"rgba(255,255,255,0)"},{"offset":0.344,"color":"#fff"},
{"offset":0.346,"color":"#fff"},{"offset":0.350,"color":"rgba(255,255,255,0)"},{"offset":0.354,"color":"#fff"},
{"offset":0.356,"color":"#fff"},{"offset":0.360,"color":"rgba(255,255,255,0)"},{"offset":0.364,"color":"#fff"},
{"offset":0.366,"color":"#fff"},{"offset":0.370,"color":"rgba(255,255,255,0)"},{"offset":0.374,"color":"#fff"},
{"offset":0.376,"color":"#fff"},{"offset":0.380,"color":"rgba(255,255,255,0)"},{"offset":0.384,"color":"#fff"},
{"offset":0.386,"color":"#fff"},{"offset":0.390,"color":"rgba(255,255,255,0)"},{"offset":0.394,"color":"#fff"},
{"offset":0.396,"color":"#fff"},{"offset":0.400,"color":"rgba(255,255,255,0)"},{"offset":0.404,"color":"#fff"},
{"offset":0.406,"color":"#fff"},{"offset":0.410,"color":"rgba(255,255,255,0)"},{"offset":0.414,"color":"#fff"},
{"offset":0.416,"color":"#fff"},{"offset":0.420,"color":"rgba(255,255,255,0)"},{"offset":0.424,"color":"#fff"},
{"offset":0.426,"color":"#fff"},{"offset":0.430,"color":"rgba(255,255,255,0)"},{"offset":0.434,"color":"#fff"},
{"offset":0.436,"color":"#fff"},{"offset":0.440,"color":"rgba(255,255,255,0)"},{"offset":0.444,"color":"#fff"},
{"offset":0.446,"color":"#fff"},{"offset":0.450,"color":"rgba(255,255,255,0)"},{"offset":0.454,"color":"#fff"},
{"offset":0.456,"color":"#fff"},{"offset":0.460,"color":"rgba(255,255,255,0)"},{"offset":0.464,"color":"#fff"},
{"offset":0.466,"color":"#fff"},{"offset":0.470,"color":"rgba(255,255,255,0)"},{"offset":0.474,"color":"#fff"},
{"offset":0.476,"color":"#fff"},{"offset":0.480,"color":"rgba(255,255,255,0)"},{"offset":0.484,"color":"#fff"},
{"offset":0.486,"color":"#fff"},{"offset":0.490,"color":"rgba(255,255,255,0)"},{"offset":0.494,"color":"#fff"},
{"offset":0.496,"color":"#fff"},{"offset":0.500,"color":"rgba(255,255,255,0)"},{"offset":0.504,"color":"#fff"},
{"offset":0.506,"color":"#fff"},{"offset":0.510,"color":"rgba(255,255,255,0)"},{"offset":0.514,"color":"#fff"},
{"offset":0.516,"color":"#fff"},{"offset":0.520,"color":"rgba(255,255,255,0)"},{"offset":0.524,"color":"#fff"},
{"offset":0.526,"color":"#fff"},{"offset":0.530,"color":"rgba(255,255,255,0)"},{"offset":0.534,"color":"#fff"},
{"offset":0.536,"color":"#fff"},{"offset":0.540,"color":"rgba(255,255,255,0)"},{"offset":0.544,"color":"#fff"},
{"offset":0.546,"color":"#fff"},{"offset":0.550,"color":"rgba(255,255,255,0)"},{"offset":0.554,"color":"#fff"},
{"offset":0.556,"color":"#fff"},{"offset":0.560,"color":"rgba(255,255,255,0)"},{"offset":0.564,"color":"#fff"},
{"offset":0.566,"color":"#fff"},{"offset":0.570,"color":"rgba(255,255,255,0)"},{"offset":0.574,"color":"#fff"},
{"offset":0.576,"color":"#fff"},{"offset":0.580,"color":"rgba(255,255,255,0)"},{"offset":0.584,"color":"#fff"},
{"offset":0.586,"color":"#fff"},{"offset":0.590,"color":"rgba(255,255,255,0)"},{"offset":0.594,"color":"#fff"},
{"offset":0.596,"color":"#fff"},{"offset":0.600,"color":"rgba(255,255,255,0)"},{"offset":0.604,"color":"#fff"},
{"offset":0.606,"color":"#fff"},{"offset":0.610,"color":"rgba(255,255,255,0)"},{"offset":0.614,"color":"#fff"},
{"offset":0.616,"color":"#fff"},{"offset":0.620,"color":"rgba(255,255,255,0)"},{"offset":0.624,"color":"#fff"},
{"offset":0.626,"color":"#fff"},{"offset":0.630,"color":"rgba(255,255,255,0)"},{"offset":0.634,"color":"#fff"},
{"offset":0.636,"color":"#fff"},{"offset":0.640,"color":"rgba(255,255,255,0)"},{"offset":0.644,"color":"#fff"},
{"offset":0.646,"color":"#fff"},{"offset":0.650,"color":"rgba(255,255,255,0)"},{"offset":0.654,"color":"#fff"},
{"offset":0.656,"color":"#fff"},{"offset":0.660,"color":"rgba(255,255,255,0)"},{"offset":0.664,"color":"#fff"},
{"offset":0.666,"color":"#fff"},{"offset":0.670,"color":"rgba(255,255,255,0)"},{"offset":0.674,"color":"#fff"},
{"offset":0.676,"color":"#fff"},{"offset":0.680,"color":"rgba(255,255,255,0)"},{"offset":0.684,"color":"#fff"},
{"offset":0.686,"color":"#fff"},{"offset":0.690,"color":"rgba(255,255,255,0)"},{"offset":0.694,"color":"#fff"},
{"offset":0.696,"color":"#fff"},{"offset":0.700,"color":"rgba(255,255,255,0)"},{"offset":0.704,"color":"#fff"},
{"offset":0.706,"color":"#fff"},{"offset":0.710,"color":"rgba(255,255,255,0)"},{"offset":0.714,"color":"#fff"},
{"offset":0.716,"color":"#fff"},{"offset":0.720,"color":"rgba(255,255,255,0)"},{"offset":0.724,"color":"#fff"},
{"offset":0.726,"color":"#fff"},{"offset":0.730,"color":"rgba(255,255,255,0)"},{"offset":0.734,"color":"#fff"},
{"offset":0.736,"color":"#fff"},{"offset":0.740,"color":"rgba(255,255,255,0)"},{"offset":0.744,"color":"#fff"},
{"offset":0.746,"color":"#fff"},{"offset":0.750,"color":"rgba(255,255,255,0)"},{"offset":0.754,"color":"#fff"},
{"offset":0.756,"color":"#fff"},{"offset":0.760,"color":"rgba(255,255,255,0)"},{"offset":0.764,"color":"#fff"},
{"offset":0.766,"color":"#fff"},{"offset":0.770,"color":"rgba(255,255,255,0)"},{"offset":0.774,"color":"#fff"},
{"offset":0.776,"color":"#fff"},{"offset":0.780,"color":"rgba(255,255,255,0)"},{"offset":0.784,"color":"#fff"},
{"offset":0.786,"color":"#fff"},{"offset":0.790,"color":"rgba(255,255,255,0)"},{"offset":0.794,"color":"#fff"},
{"offset":0.796,"color":"#fff"},{"offset":0.800,"color":"rgba(255,255,255,0)"},{"offset":0.804,"color":"#fff"},
{"offset":0.806,"color":"#fff"},{"offset":0.810,"color":"rgba(255,255,255,0)"},{"offset":0.814,"color":"#fff"},
{"offset":0.816,"color":"#fff"},{"offset":0.820,"color":"rgba(255,255,255,0)"},{"offset":0.824,"color":"#fff"},
{"offset":0.826,"color":"#fff"},{"offset":0.830,"color":"rgba(255,255,255,0)"},{"offset":0.834,"color":"#fff"},
{"offset":0.836,"color":"#fff"},{"offset":0.840,"color":"rgba(255,255,255,0)"},{"offset":0.844,"color":"#fff"},
{"offset":0.846,"color":"#fff"},{"offset":0.850,"color":"rgba(255,255,255,0)"},{"offset":0.854,"color":"#fff"},
{"offset":0.856,"color":"#fff"},{"offset":0.860,"color":"rgba(255,255,255,0)"},{"offset":0.864,"color":"#fff"},
{"offset":0.866,"color":"#fff"},{"offset":0.870,"color":"rgba(255,255,255,0)"},{"offset":0.874,"color":"#fff"},
{"offset":0.876,"color":"#fff"},{"offset":0.880,"color":"rgba(255,255,255,0)"},{"offset":0.884,"color":"#fff"},
{"offset":0.886,"color":"#fff"},{"offset":0.890,"color":"rgba(255,255,255,0)"},{"offset":0.894,"color":"#fff"},
{"offset":0.896,"color":"#fff"},{"offset":0.900,"color":"rgba(255,255,255,0)"},{"offset":0.904,"color":"#fff"},
{"offset":0.906,"color":"#fff"},{"offset":0.910,"color":"rgba(255,255,255,0)"},{"offset":0.914,"color":"#fff"},
{"offset":0.916,"color":"#fff"},{"offset":0.920,"color":"rgba(255,255,255,0)"},{"offset":0.924,"color":"#fff"},
{"offset":0.926,"color":"#fff"},{"offset":0.930,"color":"rgba(255,255,255,0)"},{"offset":0.934,"color":"#fff"},
{"offset":0.936,"color":"#fff"},{"offset":0.940,"color":"rgba(255,255,255,0)"},{"offset":0.944,"color":"#fff"},
{"offset":0.946,"color":"#fff"},{"offset":0.950,"color":"rgba(255,255,255,0)"},{"offset":0.954,"color":"#fff"},
{"offset":0.956,"color":"#fff"},{"offset":0.960,"color":"rgba(255,255,255,0)"},{"offset":0.964,"color":"#fff"},
{"offset":0.966,"color":"#fff"},{"offset":0.970,"color":"rgba(255,255,255,0)"},{"offset":0.974,"color":"#fff"},
{"offset":0.976,"color":"#fff"},{"offset":0.980,"color":"rgba(255,255,255,0)"},{"offset":0.984,"color":"#fff"},
{"offset":0.986,"color":"#fff"},{"offset":0.990,"color":"rgba(255,255,255,0)"},{"offset":0.994,"color":"#fff"},
{"offset":0.996,"color":"#fff"},{"offset":1,"color":"rgba(255,255,255,0)"}
]}},
"encoding":{
"x":{"field":"date","type":"temporal","axis":null},
"y":{"field":"beef_pork","type":"quantitative","axis":null}
}
},
{
"mark":{"type":"area","stroke":"black","strokeWidth":2.8,"fill":{"gradient":"linear","x1":0,"y1":0,"x2":1.3398,"y2":0.50822,"stops":[
{"offset":0,"color":"#000"},{"offset":0.002,"color":"#fff"},
{"offset":0.008,"color":"#fff"},{"offset":0.010,"color":"#000"},{"offset":0.012,"color":"#fff"},
{"offset":0.018,"color":"#fff"},{"offset":0.020,"color":"#000"},{"offset":0.022,"color":"#fff"},
{"offset":0.028,"color":"#fff"},{"offset":0.030,"color":"#000"},{"offset":0.032,"color":"#fff"},
{"offset":0.038,"color":"#fff"},{"offset":0.040,"color":"#000"},{"offset":0.042,"color":"#fff"},
{"offset":0.048,"color":"#fff"},{"offset":0.050,"color":"#000"},{"offset":0.052,"color":"#fff"},
{"offset":0.058,"color":"#fff"},{"offset":0.060,"color":"#000"},{"offset":0.062,"color":"#fff"},
{"offset":0.068,"color":"#fff"},{"offset":0.070,"color":"#000"},{"offset":0.072,"color":"#fff"},
{"offset":0.078,"color":"#fff"},{"offset":0.080,"color":"#000"},{"offset":0.082,"color":"#fff"},
{"offset":0.088,"color":"#fff"},{"offset":0.090,"color":"#000"},{"offset":0.092,"color":"#fff"},
{"offset":0.098,"color":"#fff"},{"offset":0.100,"color":"#000"},{"offset":0.102,"color":"#fff"},
{"offset":0.108,"color":"#fff"},{"offset":0.110,"color":"#000"},{"offset":0.112,"color":"#fff"},
{"offset":0.118,"color":"#fff"},{"offset":0.120,"color":"#000"},{"offset":0.122,"color":"#fff"},
{"offset":0.128,"color":"#fff"},{"offset":0.130,"color":"#000"},{"offset":0.132,"color":"#fff"},
{"offset":0.138,"color":"#fff"},{"offset":0.140,"color":"#000"},{"offset":0.142,"color":"#fff"},
{"offset":0.148,"color":"#fff"},{"offset":0.150,"color":"#000"},{"offset":0.152,"color":"#fff"},
{"offset":0.158,"color":"#fff"},{"offset":0.160,"color":"#000"},{"offset":0.162,"color":"#fff"},
{"offset":0.168,"color":"#fff"},{"offset":0.170,"color":"#000"},{"offset":0.172,"color":"#fff"},
{"offset":0.178,"color":"#fff"},{"offset":0.180,"color":"#000"},{"offset":0.182,"color":"#fff"},
{"offset":0.188,"color":"#fff"},{"offset":0.190,"color":"#000"},{"offset":0.192,"color":"#fff"},
{"offset":0.198,"color":"#fff"},{"offset":0.200,"color":"#000"},{"offset":0.202,"color":"#fff"},
{"offset":0.208,"color":"#fff"},{"offset":0.210,"color":"#000"},{"offset":0.212,"color":"#fff"},
{"offset":0.218,"color":"#fff"},{"offset":0.220,"color":"#000"},{"offset":0.222,"color":"#fff"},
{"offset":0.228,"color":"#fff"},{"offset":0.230,"color":"#000"},{"offset":0.232,"color":"#fff"},
{"offset":0.238,"color":"#fff"},{"offset":0.240,"color":"#000"},{"offset":0.242,"color":"#fff"},
{"offset":0.248,"color":"#fff"},{"offset":0.250,"color":"#000"},{"offset":0.252,"color":"#fff"},
{"offset":0.258,"color":"#fff"},{"offset":0.260,"color":"#000"},{"offset":0.262,"color":"#fff"},
{"offset":0.268,"color":"#fff"},{"offset":0.270,"color":"#000"},{"offset":0.272,"color":"#fff"},
{"offset":0.278,"color":"#fff"},{"offset":0.280,"color":"#000"},{"offset":0.282,"color":"#fff"},
{"offset":0.288,"color":"#fff"},{"offset":0.290,"color":"#000"},{"offset":0.292,"color":"#fff"},
{"offset":0.298,"color":"#fff"},{"offset":0.300,"color":"#000"},{"offset":0.302,"color":"#fff"},
{"offset":0.308,"color":"#fff"},{"offset":0.310,"color":"#000"},{"offset":0.312,"color":"#fff"},
{"offset":0.318,"color":"#fff"},{"offset":0.320,"color":"#000"},{"offset":0.322,"color":"#fff"},
{"offset":0.328,"color":"#fff"},{"offset":0.330,"color":"#000"},{"offset":0.332,"color":"#fff"},
{"offset":0.338,"color":"#fff"},{"offset":0.340,"color":"#000"},{"offset":0.342,"color":"#fff"},
{"offset":0.348,"color":"#fff"},{"offset":0.350,"color":"#000"},{"offset":0.352,"color":"#fff"},
{"offset":0.358,"color":"#fff"},{"offset":0.360,"color":"#000"},{"offset":0.362,"color":"#fff"},
{"offset":0.368,"color":"#fff"},{"offset":0.370,"color":"#000"},{"offset":0.372,"color":"#fff"},
{"offset":0.378,"color":"#fff"},{"offset":0.380,"color":"#000"},{"offset":0.382,"color":"#fff"},
{"offset":0.388,"color":"#fff"},{"offset":0.390,"color":"#000"},{"offset":0.392,"color":"#fff"},
{"offset":0.398,"color":"#fff"},{"offset":0.400,"color":"#000"},{"offset":0.402,"color":"#fff"},
{"offset":0.408,"color":"#fff"},{"offset":0.410,"color":"#000"},{"offset":0.412,"color":"#fff"},
{"offset":0.418,"color":"#fff"},{"offset":0.420,"color":"#000"},{"offset":0.422,"color":"#fff"},
{"offset":0.428,"color":"#fff"},{"offset":0.430,"color":"#000"},{"offset":0.432,"color":"#fff"},
{"offset":0.438,"color":"#fff"},{"offset":0.440,"color":"#000"},{"offset":0.442,"color":"#fff"},
{"offset":0.448,"color":"#fff"},{"offset":0.450,"color":"#000"},{"offset":0.452,"color":"#fff"},
{"offset":0.458,"color":"#fff"},{"offset":0.460,"color":"#000"},{"offset":0.462,"color":"#fff"},
{"offset":0.468,"color":"#fff"},{"offset":0.470,"color":"#000"},{"offset":0.472,"color":"#fff"},
{"offset":0.478,"color":"#fff"},{"offset":0.480,"color":"#000"},{"offset":0.482,"color":"#fff"},
{"offset":0.488,"color":"#fff"},{"offset":0.490,"color":"#000"},{"offset":0.492,"color":"#fff"},
{"offset":0.498,"color":"#fff"},{"offset":0.500,"color":"#000"},{"offset":0.502,"color":"#fff"},
{"offset":0.508,"color":"#fff"},{"offset":0.510,"color":"#000"},{"offset":0.512,"color":"#fff"},
{"offset":0.518,"color":"#fff"},{"offset":0.520,"color":"#000"},{"offset":0.522,"color":"#fff"},
{"offset":0.528,"color":"#fff"},{"offset":0.530,"color":"#000"},{"offset":0.532,"color":"#fff"},
{"offset":0.538,"color":"#fff"},{"offset":0.540,"color":"#000"},{"offset":0.542,"color":"#fff"},
{"offset":0.548,"color":"#fff"},{"offset":0.550,"color":"#000"},{"offset":0.552,"color":"#fff"},
{"offset":0.558,"color":"#fff"},{"offset":0.560,"color":"#000"},{"offset":0.562,"color":"#fff"},
{"offset":0.568,"color":"#fff"},{"offset":0.570,"color":"#000"},{"offset":0.572,"color":"#fff"},
{"offset":0.578,"color":"#fff"},{"offset":0.580,"color":"#000"},{"offset":0.582,"color":"#fff"},
{"offset":0.588,"color":"#fff"},{"offset":0.590,"color":"#000"},{"offset":0.592,"color":"#fff"},
{"offset":0.598,"color":"#fff"},{"offset":0.600,"color":"#000"},{"offset":0.602,"color":"#fff"},
{"offset":0.608,"color":"#fff"},{"offset":0.610,"color":"#000"},{"offset":0.612,"color":"#fff"},
{"offset":0.618,"color":"#fff"},{"offset":0.620,"color":"#000"},{"offset":0.622,"color":"#fff"},
{"offset":0.628,"color":"#fff"},{"offset":0.630,"color":"#000"},{"offset":0.632,"color":"#fff"},
{"offset":0.638,"color":"#fff"},{"offset":0.640,"color":"#000"},{"offset":0.642,"color":"#fff"},
{"offset":0.648,"color":"#fff"},{"offset":0.650,"color":"#000"},{"offset":0.652,"color":"#fff"},
{"offset":0.658,"color":"#fff"},{"offset":0.660,"color":"#000"},{"offset":0.662,"color":"#fff"},
{"offset":0.668,"color":"#fff"},{"offset":0.670,"color":"#000"},{"offset":0.672,"color":"#fff"},
{"offset":0.678,"color":"#fff"},{"offset":0.680,"color":"#000"},{"offset":0.682,"color":"#fff"},
{"offset":0.688,"color":"#fff"},{"offset":0.690,"color":"#000"},{"offset":0.692,"color":"#fff"},
{"offset":0.698,"color":"#fff"},{"offset":0.700,"color":"#000"},{"offset":0.702,"color":"#fff"},
{"offset":0.708,"color":"#fff"},{"offset":0.710,"color":"#000"},{"offset":0.712,"color":"#fff"},
{"offset":0.718,"color":"#fff"},{"offset":0.720,"color":"#000"},{"offset":0.722,"color":"#fff"},
{"offset":0.728,"color":"#fff"},{"offset":0.730,"color":"#000"},{"offset":0.732,"color":"#fff"},
{"offset":0.738,"color":"#fff"},{"offset":0.740,"color":"#000"},{"offset":0.742,"color":"#fff"},
{"offset":0.748,"color":"#fff"},{"offset":0.750,"color":"#000"},{"offset":0.752,"color":"#fff"},
{"offset":0.758,"color":"#fff"},{"offset":0.760,"color":"#000"},{"offset":0.762,"color":"#fff"},
{"offset":0.768,"color":"#fff"},{"offset":0.770,"color":"#000"},{"offset":0.772,"color":"#fff"},
{"offset":0.778,"color":"#fff"},{"offset":0.780,"color":"#000"},{"offset":0.782,"color":"#fff"},
{"offset":0.788,"color":"#fff"},{"offset":0.790,"color":"#000"},{"offset":0.792,"color":"#fff"},
{"offset":0.798,"color":"#fff"},{"offset":0.800,"color":"#000"},{"offset":0.802,"color":"#fff"},
{"offset":0.808,"color":"#fff"},{"offset":0.810,"color":"#000"},{"offset":0.812,"color":"#fff"},
{"offset":0.818,"color":"#fff"},{"offset":0.820,"color":"#000"},{"offset":0.822,"color":"#fff"},
{"offset":0.828,"color":"#fff"},{"offset":0.830,"color":"#000"},{"offset":0.832,"color":"#fff"},
{"offset":0.838,"color":"#fff"},{"offset":0.840,"color":"#000"},{"offset":0.842,"color":"#fff"},
{"offset":0.848,"color":"#fff"},{"offset":0.850,"color":"#000"},{"offset":0.852,"color":"#fff"},
{"offset":0.858,"color":"#fff"},{"offset":0.860,"color":"#000"},{"offset":0.862,"color":"#fff"},
{"offset":0.868,"color":"#fff"},{"offset":0.870,"color":"#000"},{"offset":0.872,"color":"#fff"},
{"offset":0.878,"color":"#fff"},{"offset":0.880,"color":"#000"},{"offset":0.882,"color":"#fff"},
{"offset":0.888,"color":"#fff"},{"offset":0.890,"color":"#000"},{"offset":0.892,"color":"#fff"},
{"offset":0.898,"color":"#fff"},{"offset":0.900,"color":"#000"},{"offset":0.902,"color":"#fff"},
{"offset":1,"color":"#fff"}
]}},
"encoding":{
"x":{"field":"date","type":"temporal","axis":{"orient":"bottom","tickCount":{"interval":"month","step":1},"offset":-12,"tickSize":12,"tickWidth":2,"tickColor":"black","labels":false,"domain":false,"grid":false,"title":null,"zindex":1}},
"y":{"field":"beef","type":"quantitative","axis":null}
}
},
{
"mark":{"type":"area","fill":{"gradient":"linear","x1":0,"y1":1,"x2":1.3398,"y2":0.49178,"stops":[
{"offset":0,"color":"#000"},{"offset":0.002,"color":"transparent"},
{"offset":0.008,"color":"transparent"},{"offset":0.010,"color":"#000"},{"offset":0.012,"color":"transparent"},
{"offset":0.018,"color":"transparent"},{"offset":0.020,"color":"#000"},{"offset":0.022,"color":"transparent"},
{"offset":0.028,"color":"transparent"},{"offset":0.030,"color":"#000"},{"offset":0.032,"color":"transparent"},
{"offset":0.038,"color":"transparent"},{"offset":0.040,"color":"#000"},{"offset":0.042,"color":"transparent"},
{"offset":0.048,"color":"transparent"},{"offset":0.050,"color":"#000"},{"offset":0.052,"color":"transparent"},
{"offset":0.058,"color":"transparent"},{"offset":0.060,"color":"#000"},{"offset":0.062,"color":"transparent"},
{"offset":0.068,"color":"transparent"},{"offset":0.070,"color":"#000"},{"offset":0.072,"color":"transparent"},
{"offset":0.078,"color":"transparent"},{"offset":0.080,"color":"#000"},{"offset":0.082,"color":"transparent"},
{"offset":0.088,"color":"transparent"},{"offset":0.090,"color":"#000"},{"offset":0.092,"color":"transparent"},
{"offset":0.098,"color":"transparent"},{"offset":0.100,"color":"#000"},{"offset":0.102,"color":"transparent"},
{"offset":0.108,"color":"transparent"},{"offset":0.110,"color":"#000"},{"offset":0.112,"color":"transparent"},
{"offset":0.118,"color":"transparent"},{"offset":0.120,"color":"#000"},{"offset":0.122,"color":"transparent"},
{"offset":0.128,"color":"transparent"},{"offset":0.130,"color":"#000"},{"offset":0.132,"color":"transparent"},
{"offset":0.138,"color":"transparent"},{"offset":0.140,"color":"#000"},{"offset":0.142,"color":"transparent"},
{"offset":0.148,"color":"transparent"},{"offset":0.150,"color":"#000"},{"offset":0.152,"color":"transparent"},
{"offset":0.158,"color":"transparent"},{"offset":0.160,"color":"#000"},{"offset":0.162,"color":"transparent"},
{"offset":0.168,"color":"transparent"},{"offset":0.170,"color":"#000"},{"offset":0.172,"color":"transparent"},
{"offset":0.178,"color":"transparent"},{"offset":0.180,"color":"#000"},{"offset":0.182,"color":"transparent"},
{"offset":0.188,"color":"transparent"},{"offset":0.190,"color":"#000"},{"offset":0.192,"color":"transparent"},
{"offset":0.198,"color":"transparent"},{"offset":0.200,"color":"#000"},{"offset":0.202,"color":"transparent"},
{"offset":0.208,"color":"transparent"},{"offset":0.210,"color":"#000"},{"offset":0.212,"color":"transparent"},
{"offset":0.218,"color":"transparent"},{"offset":0.220,"color":"#000"},{"offset":0.222,"color":"transparent"},
{"offset":0.228,"color":"transparent"},{"offset":0.230,"color":"#000"},{"offset":0.232,"color":"transparent"},
{"offset":0.238,"color":"transparent"},{"offset":0.240,"color":"#000"},{"offset":0.242,"color":"transparent"},
{"offset":0.248,"color":"transparent"},{"offset":0.250,"color":"#000"},{"offset":0.252,"color":"transparent"},
{"offset":0.258,"color":"transparent"},{"offset":0.260,"color":"#000"},{"offset":0.262,"color":"transparent"},
{"offset":0.268,"color":"transparent"},{"offset":0.270,"color":"#000"},{"offset":0.272,"color":"transparent"},
{"offset":0.278,"color":"transparent"},{"offset":0.280,"color":"#000"},{"offset":0.282,"color":"transparent"},
{"offset":0.288,"color":"transparent"},{"offset":0.290,"color":"#000"},{"offset":0.292,"color":"transparent"},
{"offset":0.298,"color":"transparent"},{"offset":0.300,"color":"#000"},{"offset":0.302,"color":"transparent"},
{"offset":0.308,"color":"transparent"},{"offset":0.310,"color":"#000"},{"offset":0.312,"color":"transparent"},
{"offset":0.318,"color":"transparent"},{"offset":0.320,"color":"#000"},{"offset":0.322,"color":"transparent"},
{"offset":0.328,"color":"transparent"},{"offset":0.330,"color":"#000"},{"offset":0.332,"color":"transparent"},
{"offset":0.338,"color":"transparent"},{"offset":0.340,"color":"#000"},{"offset":0.342,"color":"transparent"},
{"offset":0.348,"color":"transparent"},{"offset":0.350,"color":"#000"},{"offset":0.352,"color":"transparent"},
{"offset":0.358,"color":"transparent"},{"offset":0.360,"color":"#000"},{"offset":0.362,"color":"transparent"},
{"offset":0.368,"color":"transparent"},{"offset":0.370,"color":"#000"},{"offset":0.372,"color":"transparent"},
{"offset":0.378,"color":"transparent"},{"offset":0.380,"color":"#000"},{"offset":0.382,"color":"transparent"},
{"offset":0.388,"color":"transparent"},{"offset":0.390,"color":"#000"},{"offset":0.392,"color":"transparent"},
{"offset":0.398,"color":"transparent"},{"offset":0.400,"color":"#000"},{"offset":0.402,"color":"transparent"},
{"offset":0.408,"color":"transparent"},{"offset":0.410,"color":"#000"},{"offset":0.412,"color":"transparent"},
{"offset":0.418,"color":"transparent"},{"offset":0.420,"color":"#000"},{"offset":0.422,"color":"transparent"},
{"offset":0.428,"color":"transparent"},{"offset":0.430,"color":"#000"},{"offset":0.432,"color":"transparent"},
{"offset":0.438,"color":"transparent"},{"offset":0.440,"color":"#000"},{"offset":0.442,"color":"transparent"},
{"offset":0.448,"color":"transparent"},{"offset":0.450,"color":"#000"},{"offset":0.452,"color":"transparent"},
{"offset":0.458,"color":"transparent"},{"offset":0.460,"color":"#000"},{"offset":0.462,"color":"transparent"},
{"offset":0.468,"color":"transparent"},{"offset":0.470,"color":"#000"},{"offset":0.472,"color":"transparent"},
{"offset":0.478,"color":"transparent"},{"offset":0.480,"color":"#000"},{"offset":0.482,"color":"transparent"},
{"offset":0.488,"color":"transparent"},{"offset":0.490,"color":"#000"},{"offset":0.492,"color":"transparent"},
{"offset":0.498,"color":"transparent"},{"offset":0.500,"color":"#000"},{"offset":0.502,"color":"transparent"},
{"offset":0.508,"color":"transparent"},{"offset":0.510,"color":"#000"},{"offset":0.512,"color":"transparent"},
{"offset":0.518,"color":"transparent"},{"offset":0.520,"color":"#000"},{"offset":0.522,"color":"transparent"},
{"offset":0.528,"color":"transparent"},{"offset":0.530,"color":"#000"},{"offset":0.532,"color":"transparent"},
{"offset":0.538,"color":"transparent"},{"offset":0.540,"color":"#000"},{"offset":0.542,"color":"transparent"},
{"offset":0.548,"color":"transparent"},{"offset":0.550,"color":"#000"},{"offset":0.552,"color":"transparent"},
{"offset":0.558,"color":"transparent"},{"offset":0.560,"color":"#000"},{"offset":0.562,"color":"transparent"},
{"offset":0.568,"color":"transparent"},{"offset":0.570,"color":"#000"},{"offset":0.572,"color":"transparent"},
{"offset":0.578,"color":"transparent"},{"offset":0.580,"color":"#000"},{"offset":0.582,"color":"transparent"},
{"offset":0.588,"color":"transparent"},{"offset":0.590,"color":"#000"},{"offset":0.592,"color":"transparent"},
{"offset":0.598,"color":"transparent"},{"offset":0.600,"color":"#000"},{"offset":0.602,"color":"transparent"},
{"offset":0.608,"color":"transparent"},{"offset":0.610,"color":"#000"},{"offset":0.612,"color":"transparent"},
{"offset":0.618,"color":"transparent"},{"offset":0.620,"color":"#000"},{"offset":0.622,"color":"transparent"},
{"offset":0.628,"color":"transparent"},{"offset":0.630,"color":"#000"},{"offset":0.632,"color":"transparent"},
{"offset":0.638,"color":"transparent"},{"offset":0.640,"color":"#000"},{"offset":0.642,"color":"transparent"},
{"offset":0.648,"color":"transparent"},{"offset":0.650,"color":"#000"},{"offset":0.652,"color":"transparent"},
{"offset":0.658,"color":"transparent"},{"offset":0.660,"color":"#000"},{"offset":0.662,"color":"transparent"},
{"offset":0.668,"color":"transparent"},{"offset":0.670,"color":"#000"},{"offset":0.672,"color":"transparent"},
{"offset":0.678,"color":"transparent"},{"offset":0.680,"color":"#000"},{"offset":0.682,"color":"transparent"},
{"offset":0.688,"color":"transparent"},{"offset":0.690,"color":"#000"},{"offset":0.692,"color":"transparent"},
{"offset":0.698,"color":"transparent"},{"offset":0.700,"color":"#000"},{"offset":0.702,"color":"transparent"},
{"offset":0.708,"color":"transparent"},{"offset":0.710,"color":"#000"},{"offset":0.712,"color":"transparent"},
{"offset":0.718,"color":"transparent"},{"offset":0.720,"color":"#000"},{"offset":0.722,"color":"transparent"},
{"offset":0.728,"color":"transparent"},{"offset":0.730,"color":"#000"},{"offset":0.732,"color":"transparent"},
{"offset":0.738,"color":"transparent"},{"offset":0.740,"color":"#000"},{"offset":0.742,"color":"transparent"},
{"offset":0.748,"color":"transparent"},{"offset":0.750,"color":"#000"},{"offset":0.752,"color":"transparent"},
{"offset":0.758,"color":"transparent"},{"offset":0.760,"color":"#000"},{"offset":0.762,"color":"transparent"},
{"offset":0.768,"color":"transparent"},{"offset":0.770,"color":"#000"},{"offset":0.772,"color":"transparent"},
{"offset":0.778,"color":"transparent"},{"offset":0.780,"color":"#000"},{"offset":0.782,"color":"transparent"},
{"offset":0.788,"color":"transparent"},{"offset":0.790,"color":"#000"},{"offset":0.792,"color":"transparent"},
{"offset":0.798,"color":"transparent"},{"offset":0.800,"color":"#000"},{"offset":0.802,"color":"transparent"},
{"offset":0.808,"color":"transparent"},{"offset":0.810,"color":"#000"},{"offset":0.812,"color":"transparent"},
{"offset":0.818,"color":"transparent"},{"offset":0.820,"color":"#000"},{"offset":0.822,"color":"transparent"},
{"offset":0.828,"color":"transparent"},{"offset":0.830,"color":"#000"},{"offset":0.832,"color":"transparent"},
{"offset":0.838,"color":"transparent"},{"offset":0.840,"color":"#000"},{"offset":0.842,"color":"transparent"},
{"offset":0.848,"color":"transparent"},{"offset":0.850,"color":"#000"},{"offset":0.852,"color":"transparent"},
{"offset":0.858,"color":"transparent"},{"offset":0.860,"color":"#000"},{"offset":0.862,"color":"transparent"},
{"offset":0.868,"color":"transparent"},{"offset":0.870,"color":"#000"},{"offset":0.872,"color":"transparent"},
{"offset":0.878,"color":"transparent"},{"offset":0.880,"color":"#000"},{"offset":0.882,"color":"transparent"},
{"offset":0.888,"color":"transparent"},{"offset":0.890,"color":"#000"},{"offset":0.892,"color":"transparent"},
{"offset":0.898,"color":"transparent"},{"offset":0.900,"color":"#000"},{"offset":0.902,"color":"transparent"},
{"offset":1,"color":"transparent"}
]}},
"encoding":{
"x":{"field":"date","type":"temporal","axis":{"orient":"bottom","tickCount":{"interval":"month","step":3},"offset":-24,"tickSize":24,"tickWidth":2,"tickColor":"black","labels":false,"domain":false,"grid":false,"title":null,"zindex":1}},
"y":{"field":"beef","type":"quantitative","axis":null}
}
},
{
"data":{"values":[{}]},
"mark":{"type":"text","text":"Total","font":"Liberation Sans, Arial, sans-serif","fontSize":42,"align":"center","baseline":"alphabetic","fill":"black"},
"encoding":{
"x":{"datum":{"year":1974,"month":6,"date":27,"utc":true},"type":"temporal","axis":{"orient":"bottom","tickCount":{"interval":"month","step":6},"offset":-36,"tickSize":36,"tickWidth":2,"tickColor":"black","labels":false,"domain":false,"grid":false,"title":null,"zindex":1}},
"y":{"datum":1082,"type":"quantitative","axis":null}
}
},
{
"data":{"values":[{}]},
"mark":{"type":"rule","stroke":"black","strokeWidth":4,"strokeCap":"butt"},
"encoding":{
"x":{"datum":{"year":1974,"month":6,"date":16,"utc":true},"type":"temporal","axis":null},
"y":{"datum":1068,"type":"quantitative","axis":null},
"x2":{"datum":{"year":1974,"month":5,"date":15,"utc":true}},
"y2":{"datum":1015}
}
},
{
"data":{"values":[{}]},
"mark":{"type":"text","text":"OTHER","font":"Liberation Sans, Arial, sans-serif","fontSize":30,"align":"center","baseline":"alphabetic","fill":"white","stroke":"white","strokeWidth":12,"strokeJoin":"round"},
"encoding":{"x":{"datum":{"year":1973,"month":3,"date":24,"utc":true},"type":"temporal","axis":null},"y":{"datum":618,"type":"quantitative","axis":null}}
},
{
"data":{"values":[{}]},
"mark":{"type":"text","text":"OTHER","font":"Liberation Sans, Arial, sans-serif","fontSize":30,"align":"center","baseline":"alphabetic","fill":"black"},
"encoding":{"x":{"datum":{"year":1973,"month":3,"date":24,"utc":true},"type":"temporal","axis":null},"y":{"datum":618,"type":"quantitative","axis":null}}
},
{
"data":{"values":[{}]},
"mark":{"type":"text","text":"PORK","font":"Liberation Sans, Arial, sans-serif","fontSize":30,"align":"center","baseline":"alphabetic","fill":"white","stroke":"white","strokeWidth":12,"strokeJoin":"round"},
"encoding":{"x":{"datum":{"year":1974,"month":7,"date":9,"utc":true},"type":"temporal","axis":null},"y":{"datum":514,"type":"quantitative","axis":null}}
},
{
"data":{"values":[{}]},
"mark":{"type":"text","text":"PORK","font":"Liberation Sans, Arial, sans-serif","fontSize":30,"align":"center","baseline":"alphabetic","fill":"black"},
"encoding":{"x":{"datum":{"year":1974,"month":7,"date":9,"utc":true},"type":"temporal","axis":null},"y":{"datum":514,"type":"quantitative","axis":null}}
},
{
"data":{"values":[{}]},
"mark":{"type":"text","text":"BEEF","font":"Liberation Sans, Arial, sans-serif","fontSize":30,"align":"center","baseline":"alphabetic","fill":"white","stroke":"white","strokeWidth":12,"strokeJoin":"round"},
"encoding":{"x":{"datum":{"year":1974,"month":7,"date":6,"utc":true},"type":"temporal","axis":null},"y":{"datum":217,"type":"quantitative","axis":null}}
},
{
"data":{"values":[{}]},
"mark":{"type":"text","text":"BEEF","font":"Liberation Sans, Arial, sans-serif","fontSize":30,"align":"center","baseline":"alphabetic","fill":"black"},
"encoding":{"x":{"datum":{"year":1974,"month":7,"date":6,"utc":true},"type":"temporal","axis":null},"y":{"datum":217,"type":"quantitative","axis":null}}
},
{
"data":{"values":[{}]},
"mark":{"type":"text","text":"PRELIMINARY.","font":"Liberation Sans, Arial, sans-serif","fontSize":12.5,"fontWeight":"bold","fontStyle":"italic","align":"center","baseline":"alphabetic","fill":"black"},
"encoding":{"x":{"datum":{"year":1975,"month":7,"date":16,"utc":true},"type":"temporal","axis":null},"y":{"datum":-84,"type":"quantitative","axis":null}}
},
{
"data":{"values":[{}]},
"mark":{"type":"text","text":"MIL. LB.","font":"Liberation Sans, Arial, sans-serif","fontSize":31,"align":"left","baseline":"alphabetic","dx":-85,"fill":"black"},
"encoding":{"x":{"datum":{"year":1973,"month":1,"date":1,"utc":true},"type":"temporal","axis":null},"y":{"datum":1168,"type":"quantitative","axis":null}}
}
]
}
